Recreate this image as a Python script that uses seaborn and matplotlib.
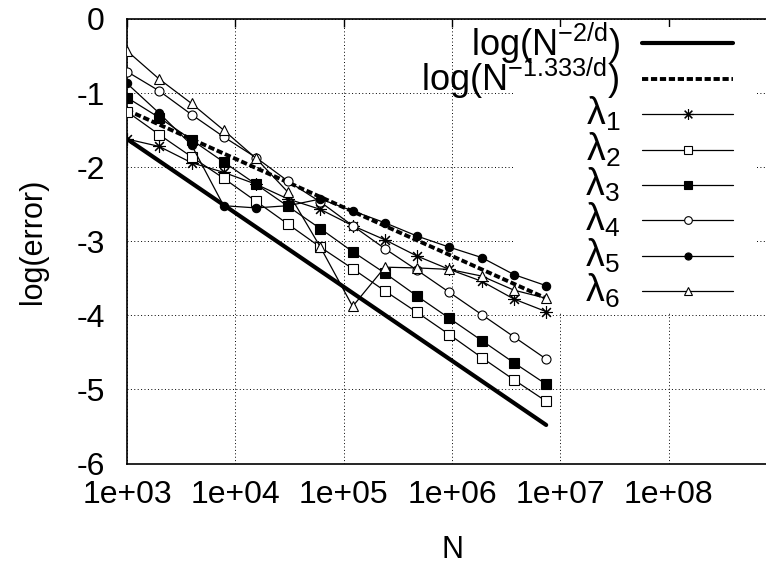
import matplotlib
matplotlib.use('Agg')
import matplotlib.pyplot as plt
from matplotlib.patches import Rectangle
from matplotlib.ticker import NullLocator
import seaborn as sns

# problem sizes
N = [1000, 1980, 3940, 7800, 15500, 30700, 61000, 121000, 240000,
     476000, 946000, 1.88e6, 3.73e6, 7.4e6]

# reference slopes (straight lines, end points only)
N_ref = [1000, 7.4e6]
ref_2 = [-1.62, -5.48]
ref_1333 = [-1.23, -3.77]

lam1 = [-1.62, -1.72, -1.94, -2.07, -2.23, -2.43, -2.57, -2.79, -2.98, -3.20, -3.38, -3.54, -3.78, -3.95]
lam2 = [-1.25, -1.56, -1.86, -2.15, -2.46, -2.77, -3.08, -3.37, -3.67, -3.96, -4.26, -4.57, -4.87, -5.16]
lam3 = [-1.06, -1.33, -1.63, -1.93, -2.23, -2.53, -2.83, -3.14, -3.43, -3.74, -4.04, -4.34, -4.64, -4.93]
lam4 = [-0.71, -0.97, -1.29, -1.59, -1.87, -2.19, -2.47, -2.79, -3.10, -3.39, -3.69, -3.99, -4.29, -4.59]
lam5 = [-0.87, -1.27, -1.70, -2.52, -2.55, -2.52, -2.43, -2.59, -2.75, -2.93, -3.08, -3.22, -3.45, -3.60]
lam6 = [-0.43, -0.81, -1.14, -1.50, -1.88, -2.34, -3.08, -3.88, -3.35, -3.36, -3.38, -3.47, -3.66, -3.77]

labels = [r'log(N$^{-2/d}$)', r'log(N$^{-1.333/d}$)',
          r'$\lambda_1$', r'$\lambda_2$', r'$\lambda_3$',
          r'$\lambda_4$', r'$\lambda_5$', r'$\lambda_6$']
xticks = [1e3, 1e4, 1e5, 1e6, 1e7, 1e8]
xticklabels = ['1e+03', '1e+04', '1e+05', '1e+06', '1e+07', '1e+08']
yticks = [-6, -5, -4, -3, -2, -1, 0]

sns.set_theme(style='white')
plt.rcParams['font.family'] = ['Liberation Sans', 'DejaVu Sans']
plt.rcParams['mathtext.fontset'] = 'custom'
plt.rcParams['mathtext.rm'] = 'Liberation Sans'
plt.rcParams['mathtext.it'] = 'Liberation Sans'
plt.rcParams['mathtext.bf'] = 'Liberation Sans'
plt.rcParams['mathtext.default'] = 'rm'
plt.rcParams['axes.unicode_minus'] = False

fig = plt.figure(figsize=(7.66, 5.66), dpi=100)
ax = fig.add_axes([127 / 766, (566 - 463.5) / 566, 650 / 766, 444.5 / 566])

thin = dict(color='black', lw=0.9, mec='black', mew=0.8)
styles = [
    dict(color='black', lw=3.0),
    dict(color='black', lw=2.8, ls=(0, (1.6, 0.7))),
    dict(marker=(8, 2, 0), ms=9, mfc='black', **thin),
    dict(marker='s', ms=6.5, mfc='white', **thin),
    dict(marker='s', ms=6.5, mfc='black', **thin),
    dict(marker='o', ms=6.5, mfc='white', **thin),
    dict(marker='o', ms=6.0, mfc='black', **thin),
    dict(marker='^', ms=7.0, mfc='white', **thin),
]
series = [(N_ref, ref_2), (N_ref, ref_1333), (N, lam1), (N, lam2),
          (N, lam3), (N, lam4), (N, lam5), (N, lam6)]

for (xs, ys), st in zip(series, styles):
    sns.lineplot(x=xs, y=ys, ax=ax, sort=False, legend=False, zorder=3, **st)

ax.set_xscale('log')
ax.set_xlim(1e3, 1e9)
ax.set_ylim(-6, 0)
ax.set_xticks(xticks, labels=xticklabels)
ax.set_yticks(yticks, labels=[str(v) for v in yticks])
ax.xaxis.set_minor_locator(NullLocator())
ax.yaxis.set_minor_locator(NullLocator())
ax.tick_params(direction='in', length=6, width=1, color='black', top=True,
               right=True, labelsize=23, labelcolor='black')
ax.tick_params(axis='y', pad=16)
ax.tick_params(axis='x', pad=12)
for sp in ax.spines.values():
    sp.set_color('black')
    sp.set_linewidth(1.2)
ax.set_axisbelow(True)
ax.grid(True, color='black', lw=0.7, ls=(0, (1, 2.5)))

ax.set_xlabel('N', fontsize=22, color='black', labelpad=18)
ax.set_ylabel('log(error)', fontsize=22, color='black', labelpad=20)

# key area: grid is not drawn there
ax.add_patch(Rectangle((0.594, 0.341), 0.372, 0.641, transform=ax.transAxes,
                       facecolor='white', edgecolor='none', zorder=1))

# gnuplot style key: right-aligned text, sample line to the right
for i, (lab, st) in enumerate(zip(labels, styles)):
    yk = 1 - (43.3 + i * 35.4 - 19) / 444.5
    size = 26 if i < 2 else 27
    ax.text(0.7585, yk, lab, transform=ax.transAxes, ha='right', va='center',
            fontsize=size, color='black')
    line_st = {k: v for k, v in st.items() if k not in ('marker', 'ms', 'mfc', 'mec', 'mew')}
    ax.plot([0.7923, 0.9323], [yk, yk], transform=ax.transAxes, clip_on=False, **line_st)
    if 'marker' in st:
        ax.plot([0.863], [yk], transform=ax.transAxes, clip_on=False, ls='none',
                marker=st['marker'], ms=st['ms'] * 0.85, mfc=st['mfc'],
                mec='black', mew=0.8)

fig.savefig('out.png', dpi=100)
